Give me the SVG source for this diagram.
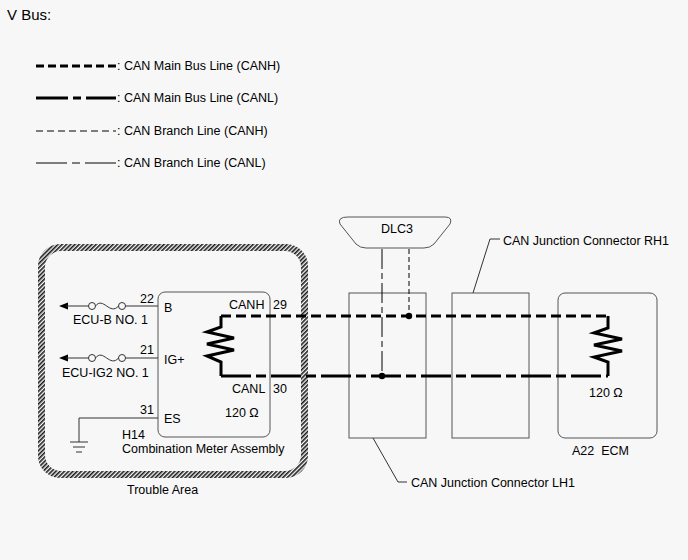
<svg xmlns="http://www.w3.org/2000/svg" width="688" height="560" viewBox="0 0 688 560">
<defs>
<pattern id="hatch" patternUnits="userSpaceOnUse" width="3" height="3" patternTransform="rotate(45)">
<rect x="0" y="0" width="1.6" height="3" fill="#1a1a1a"/>
</pattern>
</defs>
<style>
text{font-family:"Liberation Sans",Arial,sans-serif;font-size:12.5px;fill:#000}
.box{fill:none;stroke:#555;stroke-width:1}
.wire{fill:none;stroke:#333;stroke-width:1}
.arrow{fill:#000;stroke:none}
.mh{fill:none;stroke:#000;stroke-width:3;stroke-dasharray:10 5}
.ml{fill:none;stroke:#000;stroke-width:3;stroke-dasharray:30 5 10 5}
.res{fill:none;stroke:#000;stroke-width:3;stroke-linejoin:miter}
.bh{fill:none;stroke:#000;stroke-width:1;stroke-dasharray:5 3}
.bl{fill:none;stroke:#000;stroke-width:1;stroke-dasharray:20 4 6 4}
.lead{fill:none;stroke:#333;stroke-width:1}
</style>
<rect width="688" height="560" fill="#f7f7f7"/>
<text x="7" y="20" style="font-size:15px">V Bus:</text>
<g id="legend">
<path d="M36,66 H116" style="fill:none;stroke:#000;stroke-width:3;stroke-dasharray:8 4"/>
<text x="117" y="70">: CAN Main Bus Line (CANH)</text>
<path d="M36,98 H116" style="fill:none;stroke:#000;stroke-width:3;stroke-dasharray:32 5 8 5"/>
<text x="117" y="102">: CAN Main Bus Line (CANL)</text>
<path d="M36,131 H116" style="fill:none;stroke:#555;stroke-width:1.5;stroke-dasharray:7 4"/>
<text x="117" y="135">: CAN Branch Line (CANH)</text>
<path d="M36,163 H116" style="fill:none;stroke:#555;stroke-width:1.5;stroke-dasharray:31 5 8 5"/>
<text x="117" y="167">: CAN Branch Line (CANL)</text>
</g>
<g id="trouble-area">
<path fill="url(#hatch)" fill-rule="evenodd" d="M60,244 H286 A22,22 0 0 1 308,266 V456 A22,22 0 0 1 286,478 H60 A22,22 0 0 1 38,456 V266 A22,22 0 0 1 60,244 Z M61,251 H285 A16,16 0 0 1 301,267 V455 A16,16 0 0 1 285,471 H61 A16,16 0 0 1 45,455 V267 A16,16 0 0 1 61,251 Z"/>
<text x="127" y="494">Trouble Area</text>
</g>
<g id="combination-meter">
<rect class="box" x="158" y="292" width="112" height="145" rx="7"/>
<text x="122" y="439">H14</text>
<text x="122" y="453">Combination Meter Assembly</text>
<text x="229" y="309">CANH</text>
<text x="273" y="309">29</text>
<text x="232" y="393">CANL</text>
<text x="273" y="393">30</text>
<text x="225" y="417">120 Ω</text>
<text x="164" y="312">B</text>
<text x="164" y="364">IG+</text>
<text x="164" y="423">ES</text>
<text x="140" y="303">22</text>
<text x="140" y="354">21</text>
<text x="140" y="414">31</text>
<path class="res" d="M221,316 V327 L207,332 L234,338 L207,344 L234,350 L207,356 L221,362 V376"/>
</g>
<g id="fuse-ecu-b">
<path class="arrow" d="M59,306 L68,302.5 L68,309.5 Z"/>
<path class="wire" d="M66,306 H88.5 M95.5,306 C103,296 110,316 118.5,306 M125.5,306 H158"/>
<circle cx="92" cy="306" r="3.5" fill="none" stroke="#333" stroke-width="1"/>
<circle cx="122" cy="306" r="3.5" fill="none" stroke="#333" stroke-width="1"/>
<text x="73" y="324">ECU-B NO. 1</text>
</g>
<g id="fuse-ecu-ig2">
<path class="arrow" d="M59,358 L68,354.5 L68,361.5 Z"/>
<path class="wire" d="M66,358 H88.5 M95.5,358 C103,348 110,368 118.5,358 M125.5,358 H158"/>
<circle cx="92" cy="358" r="3.5" fill="none" stroke="#333" stroke-width="1"/>
<circle cx="122" cy="358" r="3.5" fill="none" stroke="#333" stroke-width="1"/>
<text x="62" y="377">ECU-IG2 NO. 1</text>
</g>
<g id="ground">
<path class="wire" d="M158,418 H79 V442 M70,442 H88 M73,447 H85 M76,452 H82"/>
</g>
<g id="dlc3">
<path d="M348,217 H445 Q453,217 450,224 L434,244 Q430,248 424,248 H366 Q360,248 356,244 L340,224 Q337,217 348,217 Z" fill="#f7f7f7" stroke="#555" stroke-width="1"/>
<text x="397" y="233" text-anchor="middle">DLC3</text>
</g>
<g id="jc-lh1">
<rect class="box" x="349" y="293" width="77" height="145"/>
<path class="lead" d="M373,438 L398,482 H407"/>
<text x="411" y="487">CAN Junction Connector LH1</text>
</g>
<g id="jc-rh1">
<rect class="box" x="452" y="293" width="77" height="145"/>
<path class="lead" d="M473,293 L490,239 H500"/>
<text x="503" y="245">CAN Junction Connector RH1</text>
</g>
<g id="ecm">
<rect class="box" x="558" y="293" width="99" height="145" rx="7"/>
<path class="res" d="M608,316 V328 L594,333 L622,339 L594,345 L622,351 L594,357 L608,362 V376"/>
<text x="589" y="397">120 Ω</text>
<text x="572" y="455">A22&#160; ECM</text>
</g>
<g id="connectors">
<path class="mh" d="M221,316 H608"/>
<path class="ml" d="M221,376 H608"/>
<path class="bl" d="M382,249 V376"/>
<path class="bh" d="M409,249 V316"/>
<circle cx="409" cy="316" r="3.2" fill="#000"/>
<circle cx="382" cy="376" r="3.2" fill="#000"/>
</g>
</svg>
